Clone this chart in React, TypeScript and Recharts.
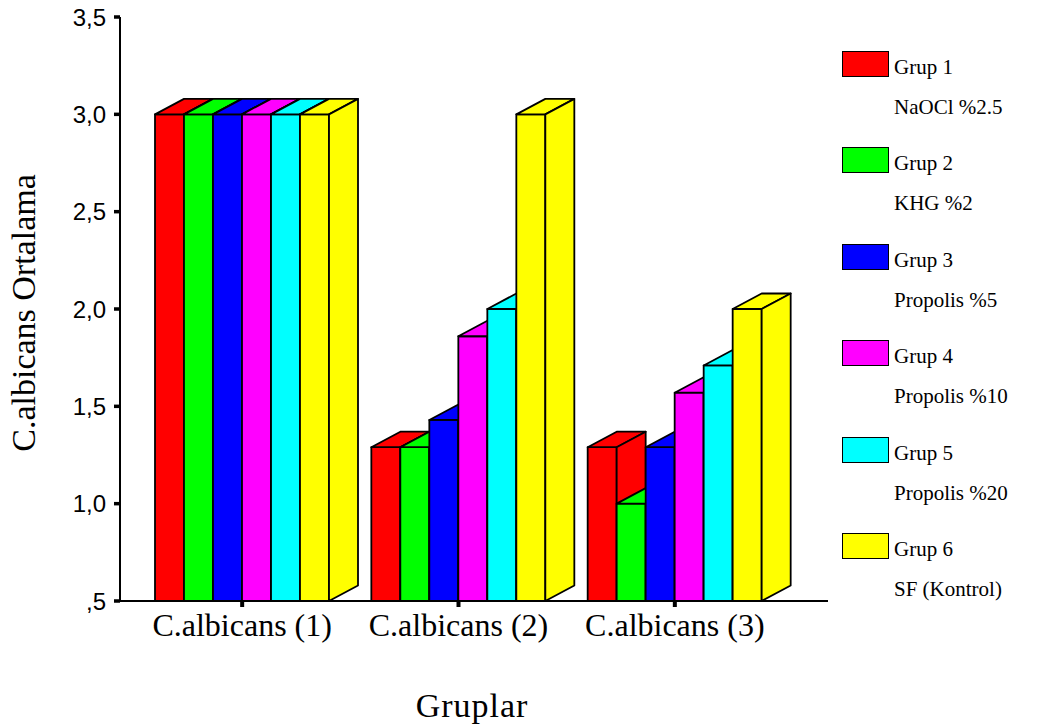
import { BarChart, Bar, XAxis, YAxis, Legend } from 'recharts'

const categories = ['C.albicans (1)', 'C.albicans (2)', 'C.albicans (3)']
const grup1 = [3.0, 1.29, 1.29]
const grup2 = [3.0, 1.29, 1.0]
const grup3 = [3.0, 1.43, 1.29]
const grup4 = [3.0, 1.86, 1.57]
const grup5 = [3.0, 2.0, 1.71]
const grup6 = [3.0, 3.0, 2.0]
const seriesKeys = ['g1', 'g2', 'g3', 'g4', 'g5', 'g6']
const seriesNames = ['Grup 1', 'Grup 2', 'Grup 3', 'Grup 4', 'Grup 5', 'Grup 6']
const seriesLabels = ['NaOCl %2.5', 'KHG %2', 'Propolis %5', 'Propolis %10', 'Propolis %20', 'SF (Kontrol)']
const COLORS = ['#FF0000', '#00FF00', '#0000FF', '#FF00FF', '#00FFFF', '#FFFF00']
const yTicks = [0.5, 1.0, 1.5, 2.0, 2.5, 3.0, 3.5]

const data = categories.map((name, i) => ({
  name,
  g1: grup1[i],
  g2: grup2[i],
  g3: grup3[i],
  g4: grup4[i],
  g5: grup5[i],
  g6: grup6[i],
}))

// depth of the fake 3d extrusion
const DX = 29
const DY = 15.5

function Bar3D(props: any) {
  const { x, y, width, height, fill } = props
  if (x == null || y == null || !width || height == null) return null
  const x2 = x + width
  const y2 = y + height
  return (
    <g stroke="#000" strokeWidth={1.8} strokeLinejoin="round">
      <rect x={x} y={y} width={width} height={height} fill={fill} />
      <polygon points={`${x},${y} ${x + DX},${y - DY} ${x2 + DX},${y - DY} ${x2},${y}`} fill={fill} />
      <polygon points={`${x2},${y} ${x2 + DX},${y - DY} ${x2 + DX},${y2 - DY} ${x2},${y2}`} fill={fill} />
    </g>
  )
}

const fmtY = (v: number) => v.toFixed(1).replace('.', ',').replace(/^0/, '')

function YTick(props: any) {
  const { y, payload } = props
  return (
    <text x={106} y={y} dy="0.36em" textAnchor="end" fontFamily="'Liberation Sans', Arial, sans-serif" fontSize={24} fill="#000">
      {fmtY(payload.value)}
    </text>
  )
}

function XTick(props: any) {
  const { x, payload } = props
  return (
    <text x={x} y={636} textAnchor="middle" fontFamily="'Liberation Serif', 'Times New Roman', serif" fontSize={32} fill="#000">
      {payload.value}
    </text>
  )
}

function LegendBox(props: any) {
  const items = props.payload || []
  return (
    <div style={{ fontFamily: "'Liberation Serif', 'Times New Roman', serif", color: '#000' }}>
      {items.map((entry: any, i: number) => (
        <div key={i} style={{ position: 'relative', height: 96.4 }}>
          <div style={{ position: 'absolute', left: 0, top: 0, width: 45, height: 24, background: entry.color, border: '1.5px solid #000' }} />
          <div style={{ position: 'absolute', left: 52, top: 6, fontSize: 21, lineHeight: '21px', whiteSpace: 'nowrap' }}>{entry.value}</div>
          <div style={{ position: 'absolute', left: 52, top: 46, fontSize: 21, lineHeight: '21px', whiteSpace: 'nowrap' }}>{seriesLabels[i]}</div>
        </div>
      ))}
    </div>
  )
}

export default function App() {
  return (
    <div style={{ position: 'absolute', left: 0, top: 0, width: 1038, height: 726, background: '#fff' }}>
      <BarChart width={1038} height={726} data={data} margin={{ top: 17, right: 210, bottom: 0, left: 0 }} barGap={0} barSize={29}>
        <XAxis
          dataKey="name"
          height={125}
          interval={0}
          padding={{ left: 14, right: 45 }}
          axisLine={{ stroke: '#000', strokeWidth: 2 }}
          tickLine={{ stroke: '#000', strokeWidth: 4 }}
          tickSize={6}
          tick={<XTick />}
          label={{
            content: () => (
              <text x={472} y={717} textAnchor="middle" fontFamily="'Liberation Serif', 'Times New Roman', serif" fontSize={34} letterSpacing={1} fill="#000">
                Gruplar
              </text>
            ),
          }}
        />
        <XAxis xAxisId="top" dataKey="name" orientation="top" height={0} tick={false} tickLine={false} axisLine={{ stroke: '#000', strokeWidth: 1.5 }} />
        <YAxis
          domain={[0.5, 3.5]}
          ticks={yTicks}
          interval={0}
          width={120}
          axisLine={{ stroke: '#000', strokeWidth: 2 }}
          tickLine={{ stroke: '#000', strokeWidth: 3.5 }}
          tickSize={6}
          tick={<YTick />}
          label={{
            content: () => (
              <text transform="translate(35,313) rotate(-90)" textAnchor="middle" fontFamily="'Liberation Serif', 'Times New Roman', serif" fontSize={34} fill="#000">
                C.albicans Ortalama
              </text>
            ),
          }}
        />
        <YAxis yAxisId="right" orientation="right" domain={[0.5, 3.5]} width={0} tick={false} tickLine={false} axisLine={{ stroke: '#000', strokeWidth: 1.5 }} />
        <Legend layout="vertical" align="center" verticalAlign="middle" wrapperStyle={{ left: 842, top: 51, width: 196 }} content={<LegendBox />} />
        {seriesKeys.map((k, i) => (
          <Bar key={k} dataKey={k} name={seriesNames[i]} fill={COLORS[i]} shape={<Bar3D />} isAnimationActive={false} />
        ))}
      </BarChart>
    </div>
  )
}
